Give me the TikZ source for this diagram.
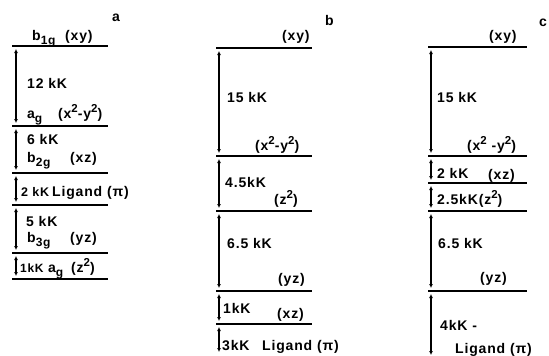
\documentclass[tikz,border=0pt]{standalone}
\usepackage{fontspec}
\setmainfont{Liberation Sans}[LetterSpace=6]
\usetikzlibrary{arrows.meta}
% lowered and raised indices in the lettering
\newcommand\dn[1]{\raisebox{-0.3em}{\fontsize{12}{13}\selectfont #1}}
\newcommand\up[1]{\raisebox{0.42em}{\fontsize{11.5}{13}\selectfont #1}}
\begin{document}
\begin{tikzpicture}[x=1pt,y=-1pt,
  level/.style={line width=1.6pt},
  gap/.style={line width=1.2pt,{Latex[length=4pt,width=4pt]}-{Latex[length=4pt,width=4pt]},shorten <=3pt,shorten >=3pt},
  lbl/.style={anchor=base west,inner sep=0pt,font=\fontsize{14}{16}\selectfont\bfseries},
  small/.style={lbl,font=\fontsize{12.5}{14}\selectfont\bfseries},
  tiny/.style={lbl,font=\fontsize{12}{14}\selectfont\bfseries}]
\useasboundingbox (0,0) rectangle (549,356);

% ---------- panel a ----------
\foreach \n/\y in {1/46,2/126,3/173,4/205,5/253,6/279}{
  \coordinate (aL\n) at (12,\y);
  \coordinate (aR\n) at (108,\y);
  \coordinate (aA\n) at (16,\y);
  \draw[level] (aL\n) -- (aR\n);
}
\foreach \n/\m in {1/2,2/3,3/4,4/5,5/6}{\draw[gap] (aA\n) -- (aA\m);}
\node[lbl] (ta)   at (112,21)  {a};
\node[lbl] (ta1)  at (32,40)   {b\dn{1g}};
\node[lbl] (ta1o) at (65,40)   {(xy)};
\node[lbl] (ta12) at (27,88)   {12 kK};
\node[lbl] (ta2)  at (27,118)  {a\dn{g}};
\node[lbl] (ta2o) at (58,118)  {(x\up{2}-y\up{2})};
\node[lbl] (ta23) at (27,144)  {6 kK};
\node[lbl] (ta3)  at (27,162)  {b\dn{2g}};
\node[lbl] (ta3o) at (70,162)  {(xz)};
\node[small] (ta34) at (21,196) {2 kK};
\node[lbl] (ta4)  at (52,196)  {Ligand (π)};
\node[lbl] (ta45) at (26,226)  {5 kK};
\node[lbl] (ta5)  at (27,242)  {b\dn{3g}};
\node[lbl] (ta5o) at (70,242)  {(yz)};
\node[tiny] (ta56) at (20,272) {1kK};
\node[lbl] (ta6)  at (48,272)  {a\dn{g}};
\node[lbl] (ta6o) at (71,272)  {(z\up{2})};

% ---------- panel b ----------
\foreach \n/\y in {1/48,2/156,3/211,4/291,5/324}{
  \coordinate (bL\n) at (216,\y);
  \coordinate (bR\n) at (312,\y);
  \coordinate (bA\n) at (219,\y);
  \draw[level] (bL\n) -- (bR\n);
}
\coordinate (bA6) at (219,355);
\foreach \n/\m in {1/2,2/3,3/4,4/5,5/6}{\draw[gap] (bA\n) -- (bA\m);}
\node[lbl] (tb)   at (325,25)  {b};
\node[lbl] (tb1)  at (282,40)  {(xy)};
\node[lbl] (tb12) at (227,102) {15 kK};
\node[lbl] (tb2)  at (255,150) {(x\up{2}-y\up{2})};
\node[lbl] (tb23) at (225,187) {4.5kK};
\node[lbl] (tb3)  at (274,204) {(z\up{2})};
\node[lbl] (tb34) at (227,248) {6.5 kK};
\node[lbl] (tb4)  at (278,283) {(yz)};
\node[lbl] (tb45) at (223,313) {1kK};
\node[lbl] (tb5)  at (277,318) {(xz)};
\node[lbl] (tb56) at (222,350) {3kK};
\node[lbl] (tb6)  at (262,350) {Ligand (π)};

% ---------- panel c ----------
\foreach \n/\y in {1/47,2/156,3/183,4/211,5/291}{
  \coordinate (cL\n) at (428,\y);
  \coordinate (cR\n) at (527,\y);
  \coordinate (cA\n) at (431,\y);
  \draw[level] (cL\n) -- (cR\n);
}
\coordinate (cA6) at (431,358);
\foreach \n/\m in {1/2,2/3,3/4,4/5,5/6}{\draw[gap] (cA\n) -- (cA\m);}
\node[lbl] (tc)   at (539,27)  {c};
\node[lbl] (tc1)  at (489,40)  {(xy)};
\node[lbl] (tc12) at (437,102) {15 kK};
\node[lbl] (tc2)  at (467,150) {(x\up{2} -y\up{2})};
\node[lbl] (tc23) at (437,178) {2 kK};
\node[lbl] (tc3)  at (488,179) {(xz)};
\node[lbl] (tc4)  at (437,204) {2.5kK(z\up{2})};
\node[lbl] (tc45) at (438,248) {6.5 kK};
\node[lbl] (tc5)  at (480,282) {(yz)};
\node[lbl] (tc56) at (440,330) {4kK -};
\node[lbl] (tc6)  at (455,353) {Ligand (π)};
\end{tikzpicture}
\end{document}
